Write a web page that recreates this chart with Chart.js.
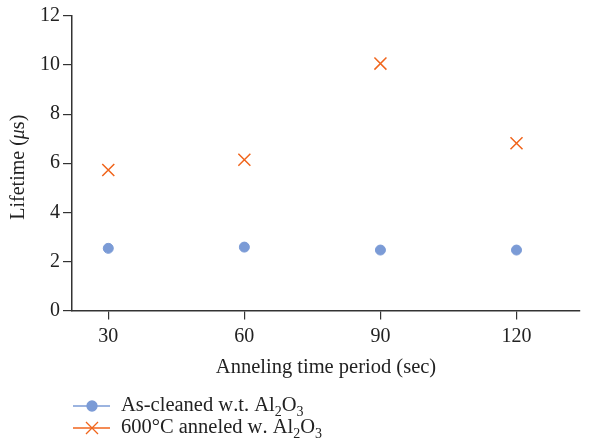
<!DOCTYPE html>
<html>
<head>
<meta charset="utf-8">
<script src="https://cdn.jsdelivr.net/npm/chart.js@4"></script>
<style>
html, body { margin: 0; padding: 0; background: #fff; }
</style>
</head>
<body>
<canvas id="myChart" width="594" height="445"></canvas>
<script>
// values
var periods = [30, 60, 90, 120];
var asCleaned = [2.53, 2.58, 2.46, 2.46];
var annealed = [5.72, 6.14, 10.06, 6.81];
var xTicks = [30, 60, 90, 120];
var yTicks = [0, 2, 4, 6, 8, 10, 12];
var seriesLabels = ["As-cleaned w.t. Al₂O₃", "600°C anneled w. Al₂O₃"];
var xTitle = "Anneling time period (sec)";
var yTitle = ["Lifetime (", "μ", "s)"];

var FONT = "'Liberation Serif', 'DejaVu Serif', serif";
var INK = "#222";
var AXIS = "#333";
var BLUE = "#7b9bd6";
var ORANGE = "#f0651c";

function toPoints(ys) {
    return periods.map(function (p, i) { return { x: p, y: ys[i] }; });
}

// y title with italic mu
var yTitlePlugin = {
    id: "yTitle",
    afterDraw: function (chart) {
        var ctx = chart.ctx;
        var a = chart.chartArea;
        ctx.save();
        ctx.translate(19, (a.top + a.bottom) / 2 + 4);
        ctx.rotate(-Math.PI / 2);
        ctx.fillStyle = INK;
        ctx.textBaseline = "middle";
        var fonts = ["20px " + FONT, "italic 20px " + FONT, "20px " + FONT];
        var total = 0;
        yTitle.forEach(function (t, i) { ctx.font = fonts[i]; total += ctx.measureText(t).width; });
        var x = -total / 2;
        yTitle.forEach(function (t, i) {
            ctx.font = fonts[i];
            ctx.fillText(t, x, 0);
            x += ctx.measureText(t).width;
        });
        ctx.restore();
    }
};

// legend under the chart, line + marker, subscripts drawn lowered
var legendPlugin = {
    id: "subLegend",
    afterDraw: function (chart) {
        var ctx = chart.ctx;
        var rows = [406, 428];
        chart.data.datasets.forEach(function (ds, i) {
            var y = rows[i];
            ctx.save();
            ctx.strokeStyle = ds.borderColor;
            ctx.fillStyle = ds.backgroundColor;
            ctx.lineWidth = 1.3;
            ctx.beginPath();
            ctx.moveTo(73, y);
            ctx.lineTo(110, y);
            ctx.stroke();
            Chart.helpers.drawPoint(ctx, {
                pointStyle: ds.pointStyle,
                radius: ds.pointRadius,
                borderWidth: ds.borderWidth
            }, 92, y);
            ctx.fillStyle = INK;
            ctx.textBaseline = "middle";
            var x = 121;
            var subs = { "₂": "2", "₃": "3" };
            Array.from(ds.label).forEach(function (ch) {
                if (subs[ch]) {
                    ctx.font = "14px " + FONT;
                    ctx.fillText(subs[ch], x, y + 6);
                    x += ctx.measureText(subs[ch]).width;
                } else {
                    ctx.font = "20.5px " + FONT;
                    ctx.fillText(ch, x, y);
                    x += ctx.measureText(ch).width;
                }
            });
            ctx.restore();
        });
    }
};

const ctx = document.getElementById("myChart");
new Chart(ctx, {
    type: "scatter",
    data: {
        datasets: [{
            label: seriesLabels[0],
            data: toPoints(asCleaned),
            pointStyle: "circle",
            pointRadius: 5,
            borderWidth: 1,
            backgroundColor: BLUE,
            borderColor: BLUE
        }, {
            label: seriesLabels[1],
            data: toPoints(annealed),
            pointStyle: "crossRot",
            pointRadius: 8.5,
            borderWidth: 1.5,
            backgroundColor: ORANGE,
            borderColor: ORANGE
        }]
    },
    options: {
        responsive: false,
        animation: false,
        layout: { padding: { left: 37, right: 14, top: 16, bottom: 61 } },
        plugins: {
            legend: { display: false },
            tooltip: { enabled: false }
        },
        scales: {
            x: {
                type: "linear",
                min: 22,
                max: 134,
                afterBuildTicks: function (s) { s.ticks = xTicks.map(function (v) { return { value: v }; }); },
                grid: { drawOnChartArea: false, drawTicks: true, tickLength: 9, color: AXIS, lineWidth: 1.2 },
                border: { color: AXIS, width: 1.5 },
                ticks: { color: INK, font: { family: FONT, size: 20 }, padding: 5 },
                title: { display: true, text: xTitle, color: INK, font: { family: FONT, size: 20.5 }, padding: { top: 2 } }
            },
            y: {
                min: 0,
                max: 12,
                afterBuildTicks: function (s) { s.ticks = yTicks.map(function (v) { return { value: v }; }); },
                grid: { drawOnChartArea: false, drawTicks: true, tickLength: 9, color: AXIS, lineWidth: 1.2 },
                border: { color: AXIS, width: 1.5 },
                ticks: { color: INK, font: { family: FONT, size: 20 }, padding: 3 }
            }
        }
    },
    plugins: [yTitlePlugin, legendPlugin]
});
</script>
</body>
</html>
